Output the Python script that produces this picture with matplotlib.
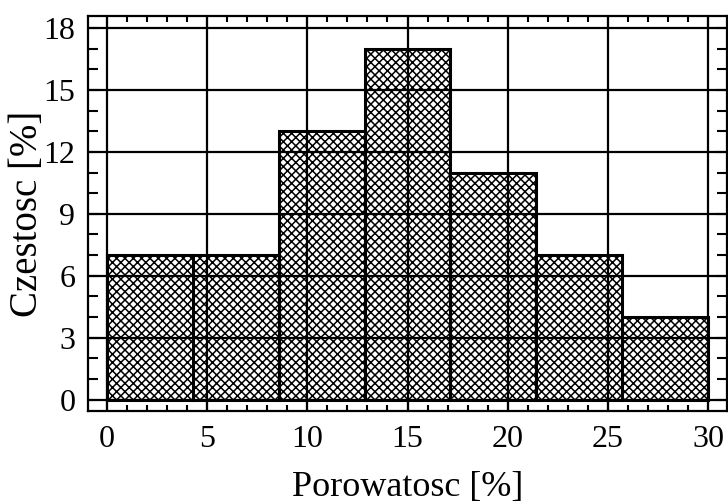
import numpy as np
import matplotlib.pyplot as plt
from matplotlib.ticker import MultipleLocator

plt.rcParams['font.family'] = ['Liberation Serif', 'DejaVu Serif']
plt.rcParams['hatch.linewidth'] = 1.1

# histogram data
bin_edges = np.linspace(0, 30, 8)
freq = [7, 7, 13, 17, 11, 7, 4]

fig = plt.figure(figsize=(7.28, 5.04), dpi=100)
ax = fig.add_axes([88 / 728, 1 - 411 / 504, (727 - 88) / 728, (411 - 16) / 504])

widths = np.diff(bin_edges)
ax.bar(bin_edges[:-1], freq, width=widths, align='edge', color='white',
       edgecolor='black', hatch='xxxx', linewidth=2.2, zorder=1)

ax.set_xlim(-0.95, 30.95)
ax.set_ylim(-0.55, 18.58)
ax.xaxis.set_major_locator(MultipleLocator(5))
ax.xaxis.set_minor_locator(MultipleLocator(1))
ax.yaxis.set_major_locator(MultipleLocator(3))
ax.yaxis.set_minor_locator(MultipleLocator(1))
ax.tick_params(which='both', direction='in', top=True, right=True, labelsize=23, width=1.5)
ax.tick_params(axis='x', which='major', length=8, pad=10)
ax.tick_params(axis='y', which='major', length=8, pad=9)
ax.tick_params(axis='x', which='minor', length=4)
ax.tick_params(axis='y', which='minor', length=7)
ax.grid(True, which='major', color='black', linewidth=1.6, zorder=3)
ax.set_axisbelow(False)
for s in ax.spines.values():
    s.set_linewidth(1.6)

ax.set_xlabel('Porowatosc [%]', fontsize=26, labelpad=12)
ax.set_ylabel('Czestosc [%]', fontsize=28)
ax.yaxis.set_label_coords(-0.065, 0.5)

plt.savefig('out.png', dpi=100)
